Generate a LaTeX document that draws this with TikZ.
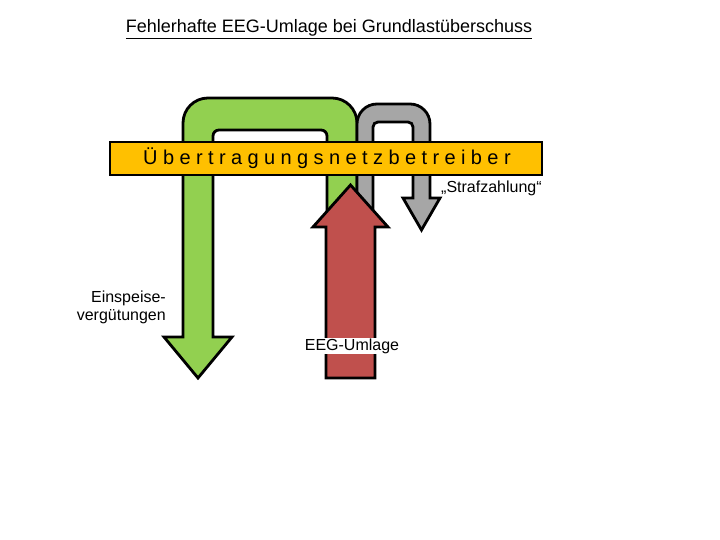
\documentclass[tikz,border=0pt]{standalone}
\usepackage{fontspec}
\setmainfont{Liberation Sans}
\newfontfamily\spacedfont[LetterSpace=27]{Liberation Sans}
\definecolor{egreen}{HTML}{92D050}
\definecolor{eorange}{HTML}{FFC000}
\definecolor{ered}{HTML}{C0504D}
\definecolor{egray}{HTML}{A6A6A6}
\begin{document}
\begin{tikzpicture}[x=1pt,y=1pt,
  arrowshape/.style={draw=black, line width=2.8pt, line join=miter},
  lbl/.style={inner sep=1pt, font=\fontsize{16}{19}\selectfont}]
\useasboundingbox (0,0) rectangle (720,540);
\fill[white] (0,0) rectangle (720,540);
% title
\node[font=\fontsize{18}{21}\selectfont] (title) at (329,511) {\underline{Fehlerhafte EEG-Umlage bei Grundlastüberschuss}};
% green U-arrow (Einspeiseverguetungen)
\draw[arrowshape, fill=egreen]
  (183,203) -- (183,417) arc[start angle=180, end angle=90, radius=25]
  -- (332,442) arc[start angle=90, end angle=0, radius=25]
  -- (357,290) -- (327,290) -- (327,404) arc[start angle=0, end angle=90, radius=6]
  -- (219,410) arc[start angle=90, end angle=180, radius=6]
  -- (213,203) -- (232,203) -- (198,162) -- (164,203) -- cycle;
% gray U-arrow (Strafzahlung)
\draw[arrowshape, fill=egray]
  (357,290) -- (357,416) arc[start angle=180, end angle=90, radius=20]
  -- (410,436) arc[start angle=90, end angle=0, radius=20]
  -- (430,342) -- (440,342) -- (421.5,310) -- (403,342) -- (413,342)
  -- (413,413) arc[start angle=0, end angle=90, radius=5]
  -- (378,418) arc[start angle=90, end angle=180, radius=5]
  -- (373,290) -- cycle;
% banner
\node[draw=black, fill=eorange, line width=1.2pt, minimum width=432, minimum height=33, inner sep=0pt] (banner) at (326,381.5) {};
\node[anchor=west, inner sep=0pt, font=\fontsize{20}{22}\spacedfont] (bannertext) at (143,381.5) {Übertragungsnetzbetreiber};
% red arrow (EEG-Umlage)
\draw[arrowshape, fill=ered]
  (326,162) -- (326,313) -- (313,313) -- (350.5,355) -- (388,313) -- (375,313) -- (375,162) -- cycle;
% labels
\node[lbl, fill=white] (eeg) at (352,194) {EEG-Umlage};
\node[lbl, anchor=west] (straf) at (440,352) {„Strafzahlung“};
\node[lbl, align=right, anchor=east, font=\fontsize{16}{18}\selectfont] (einsp) at (167,233) {Einspeise-\\vergütungen};
\end{tikzpicture}
\end{document}
